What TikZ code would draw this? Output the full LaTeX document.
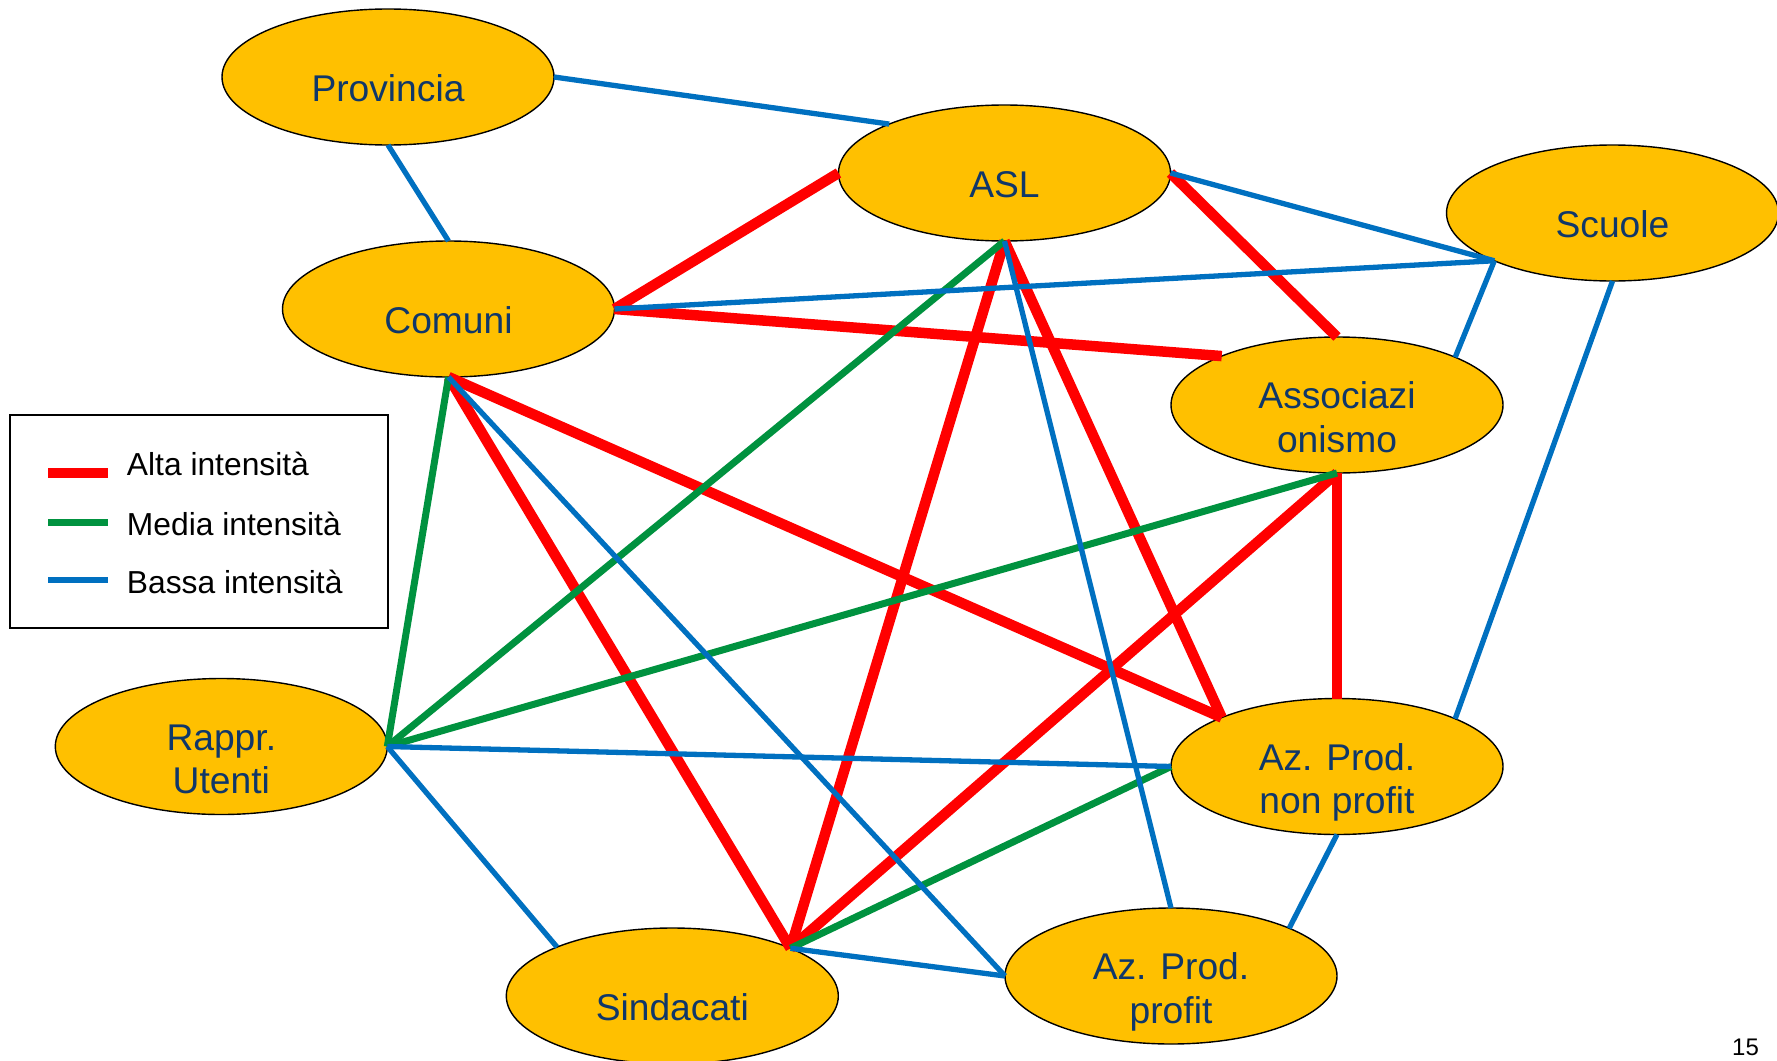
\documentclass[tikz,border=0pt]{standalone}
\usepackage{fontspec}
\setmainfont{Liberation Sans}
\usetikzlibrary{shapes.geometric}
\definecolor{fillc}{RGB}{255,192,0}
\definecolor{txtc}{RGB}{16,55,105}
\definecolor{redc}{RGB}{255,0,0}
\definecolor{greenc}{RGB}{0,146,63}
\definecolor{bluec}{RGB}{0,112,192}
\begin{document}
\begin{tikzpicture}[x=0.5pt,y=-0.5pt,
  ell/.style={ellipse, draw=black, line width=0.7pt, fill=fillc, minimum width=166pt, minimum height=68pt, inner sep=0pt, outer sep=0pt},
  lbl/.style={anchor=base, inner sep=0pt, text=txtc, font=\fontsize{18.6pt}{21.75pt}\selectfont},
  one/.style={lbl, yshift=-12.35pt},
  two/.style={lbl, yshift=-1.75pt},
  alta/.style={draw=redc, line width=5.25pt},
  media/.style={draw=greenc, line width=3.5pt},
  bassa/.style={draw=bluec, line width=2.65pt},
  legtxt/.style={anchor=base west, inner sep=0pt, font=\fontsize{15.9pt}{18pt}\selectfont}]

\useasboundingbox (0,0) rectangle (1777,1060);

% ellipses
\node[ell] (prov) at (388,77) {};
\node[ell] (asl) at (1004.5,173) {};
\node[ell] (scuole) at (1612.5,213) {};
\node[ell] (comuni) at (448.5,309) {};
\node[ell] (assoc) at (1337,405) {};
\node[ell] (rappr) at (221.3,746.5) {};
\node[ell] (nonprofit) at (1337,766.5) {};
\node[ell] (sind) at (672.3,996) {};
\node[ell] (profit) at (1171,976) {};

% alta intensita
\draw[alta] (comuni.east) -- (asl.west);
\draw[alta] (comuni.east) -- (assoc.157.7);
\draw[alta] (asl.east) -- (assoc.north);
\draw[alta] (comuni.south) -- (nonprofit.157.7);
\draw[alta] (comuni.south) -- (sind.22.3);
\draw[alta] (asl.south) -- (sind.22.3);
\draw[alta] (asl.south) -- (nonprofit.157.7);
\draw[alta] (assoc.south) -- (sind.22.3);
\draw[alta] (assoc.south) -- (nonprofit.north);

% media intensita
\draw[media] (comuni.south) -- (rappr.east);
\draw[media] (asl.south) -- (rappr.east);
\draw[media] (assoc.south) -- (rappr.east);
\draw[media] (nonprofit.west) -- (sind.22.3);

% bassa intensita
\draw[bassa] (prov.east) -- (asl.157.7);
\draw[bassa] (prov.south) -- (comuni.north);
\draw[bassa] (asl.east) -- (scuole.202.3);
\draw[bassa] (comuni.east) -- (scuole.202.3);
\draw[bassa] (scuole.202.3) -- (assoc.22.3);
\draw[bassa] (scuole.south) -- (nonprofit.22.3);
\draw[bassa] (asl.south) -- (profit.north);
\draw[bassa] (comuni.south) -- (profit.west);
\draw[bassa] (rappr.east) -- (nonprofit.west);
\draw[bassa] (rappr.east) -- (sind.157.7);
\draw[bassa] (sind.22.3) -- (profit.west);
\draw[bassa] (nonprofit.south) -- (profit.22.3);

% labels
\node[one] (provt) at (prov.center) {Provincia};
\node[one] (aslt) at (asl.center) {ASL};
\node[one] (scuolet) at (scuole.center) {Scuole};
\node[one] (comunit) at (comuni.center) {Comuni};
\node[one] (sindt) at (sind.center) {Sindacati};
\node[two] (assoct) at (assoc.center) {\begin{tabular}[t]{@{}c@{}}Associazi\\onismo\end{tabular}};
\node[two] (rapprt) at (rappr.center) {\begin{tabular}[t]{@{}c@{}}Rappr.\\Utenti\end{tabular}};
\node[two] (nonprofitt) at (nonprofit.center) {\begin{tabular}[t]{@{}c@{}}Az. Prod.\\non profit\end{tabular}};
\node[two] (profitt) at (profit.center) {\begin{tabular}[t]{@{}c@{}}Az. Prod.\\profit\end{tabular}};

% legend
\node[draw=black, line width=0.7pt, minimum width=189pt, minimum height=106.5pt, inner sep=0pt, outer sep=0pt, anchor=north west] (legend) at (10,415) {};
\draw[alta] (48,473) -- (108,473);
\draw[media] (48,522) -- (108,522);
\draw[bassa] (48,580) -- (108,580);
\node[legtxt] (l1) at (126.5,475) {Alta intensità};
\node[legtxt] (l2) at (126.5,535) {Media intensità};
\node[legtxt] (l3) at (126.5,593) {Bassa intensità};

% page number
\node[anchor=base, inner sep=0pt, font=\fontsize{12pt}{14pt}\selectfont] (pg) at (1745.5,1055) {15};
\end{tikzpicture}
\end{document}
